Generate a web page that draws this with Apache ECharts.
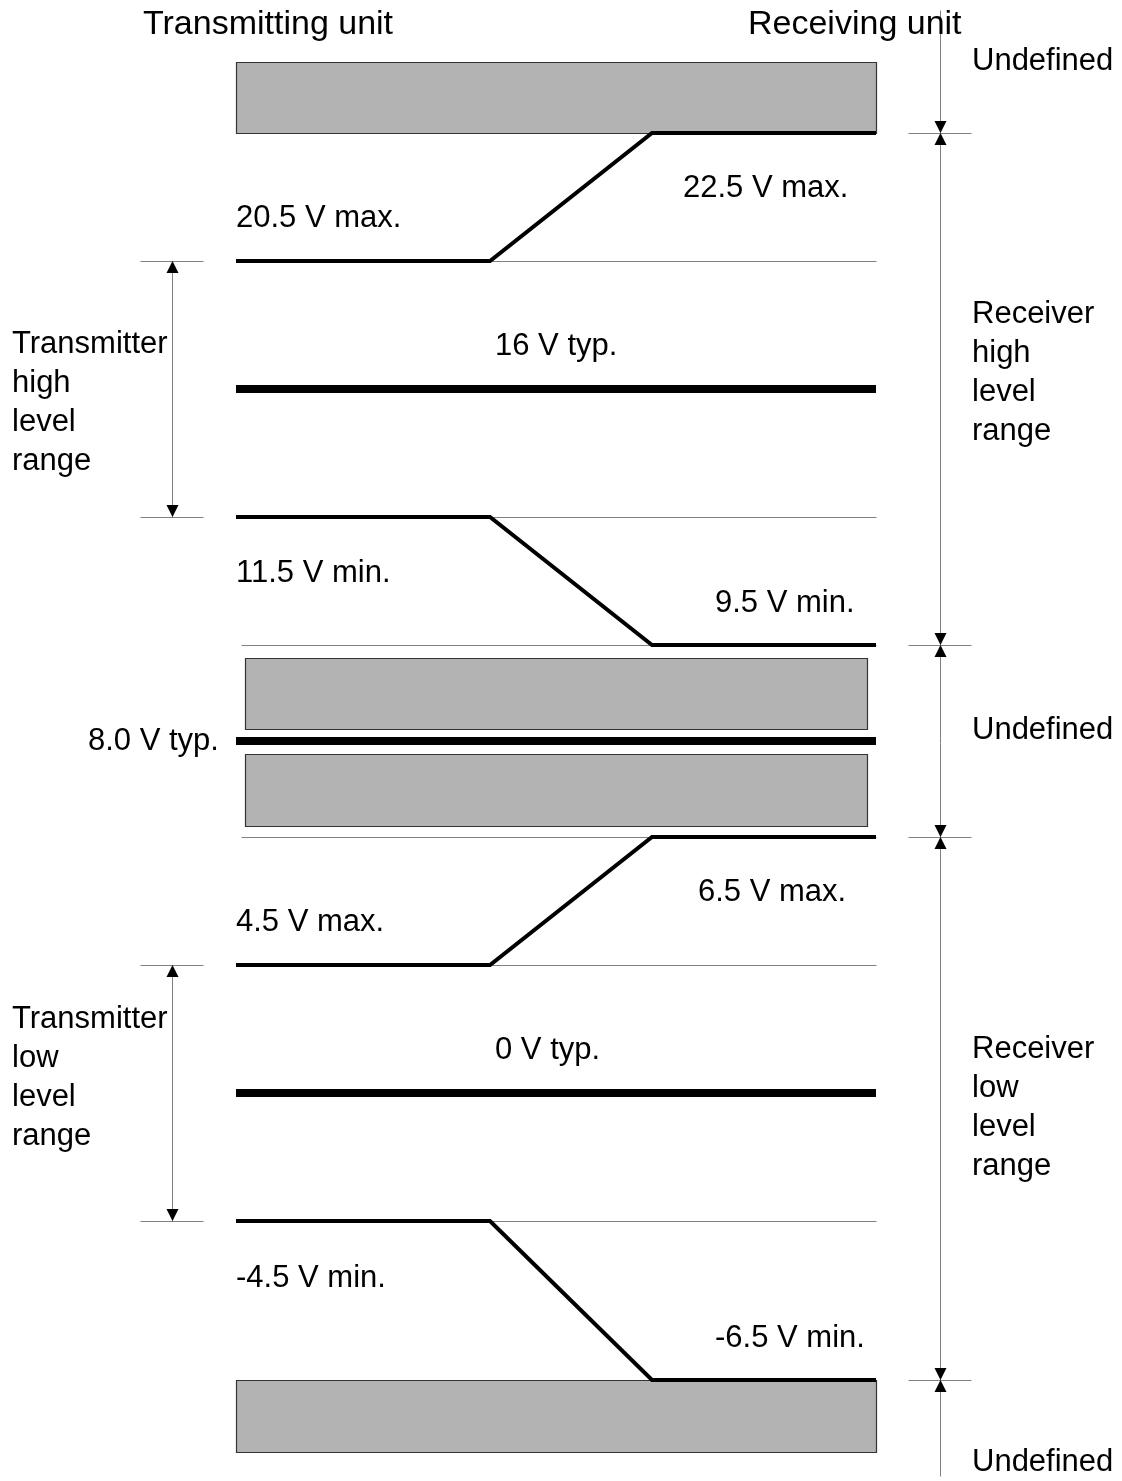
<!DOCTYPE html>
<html>
<head>
<meta charset="utf-8">
<script src="https://cdn.jsdelivr.net/npm/echarts@6/dist/echarts.min.js"></script>
<style>
html, body { margin: 0; background: #fff; }
#chart { width: 1122px; height: 1481px; }
</style>
</head>
<body>
<div id="chart"></div>
<script>
// diagram units: x runs across the page, y runs down the page
const colLeft = 236, rampStart = 490, rampEnd = 652, colRight = 876

// transmitter level -> receiver level (row where each one sits)
const traceTx = [261, 517, 965, 1221]
const traceRx = [133, 645, 837, 1380]
// typical levels
const typRows = [389, 741, 1093]
// undefined bands [x0, y0, x1, y1]
const bands = [
  [236, 62, 876, 133],
  [245, 658, 867, 729],
  [245, 754, 867, 826],
  [236, 1380, 876, 1452]
]
// thin reference lines [x0, y, x1]
const refLines = [
  [490, 261, 876], [490, 517, 876], [241, 645, 876], [241, 837, 876],
  [490, 965, 876], [490, 1221, 876],
  [140, 261, 203], [140, 517, 203], [140, 965, 203], [140, 1221, 203]
]
// receiver range boundaries on the right dimension line
const rxTicks = [133, 645, 837, 1380]
const rxAxisX = 940
// transmitter ranges on the left dimension line
const txRanges = [[261, 517], [965, 1221]]
const txAxisX = 172

// texts: [text, x, y, size]
const labels = [
  ['Transmitting unit', 143, 25, 34],
  ['Receiving unit', 748, 25, 34],
  ['Undefined', 972, 61, 31],
  ['22.5 V max.', 683, 188, 31],
  ['20.5 V max.', 236, 218, 31],
  ['16 V typ.', 495, 346, 31],
  ['11.5 V min.', 236, 573, 31],
  ['9.5 V min.', 715, 603, 31],
  ['8.0 V typ.', 88, 741, 31],
  ['Undefined', 972, 730, 31],
  ['6.5 V max.', 698, 892, 31],
  ['4.5 V max.', 236, 922, 31],
  ['0 V typ.', 495, 1050, 31],
  ['-4.5 V min.', 236, 1278, 31],
  ['-6.5 V min.', 715, 1338, 31],
  ['Undefined', 972, 1462, 31],
  ['Transmitter\nhigh\nlevel\nrange', 12, 403, 31],
  ['Receiver\nhigh\nlevel\nrange', 972, 373, 31],
  ['Transmitter\nlow\nlevel\nrange', 12, 1078, 31],
  ['Receiver\nlow\nlevel\nrange', 972, 1108, 31]
]

const FONT = '"Liberation Sans", Arial, sans-serif'

// arrowheads [x, y, dir] : dir 1 = points down, -1 = points up
const heads = []
rxTicks.forEach(y => { heads.push([rxAxisX, y, 1]); heads.push([rxAxisX, y, -1]) })
txRanges.forEach(r => { heads.push([txAxisX, r[0], -1]); heads.push([txAxisX, r[1], 1]) })

const segs = refLines.map(r => [r[0], r[1], r[2], r[1]])
rxTicks.forEach(y => segs.push([908, y, 971, y]))
segs.push([rxAxisX, 10, rxAxisX, 1476])
txRanges.forEach(r => segs.push([txAxisX, r[0], txAxisX, r[1]]))

const chart = echarts.init(document.getElementById('chart'))

const traceSeries = traceTx.map((tx, i) => ({
  type: 'line',
  symbol: 'none',
  z: 4,
  lineStyle: { color: '#000', width: 4, cap: 'butt', join: 'miter' },
  data: [[colLeft, tx], [rampStart, tx], [rampEnd, traceRx[i]], [colRight, traceRx[i]]]
}))

const typSeries = typRows.map(y => ({
  type: 'line',
  symbol: 'none',
  z: 4,
  lineStyle: { color: '#000', width: 8, cap: 'butt' },
  data: [[colLeft, y], [colRight, y]]
}))

chart.setOption({
  animation: false,
  grid: { left: 0, right: 0, top: 0, bottom: 0 },
  xAxis: { type: 'value', min: 0, max: 1122, show: false },
  yAxis: { type: 'value', min: 0, max: 1481, inverse: true, show: false },
  series: [{
    type: 'custom',
    z: 1,
    data: segs,
    renderItem: (params, api) => {
      const a = api.coord([api.value(0), api.value(1)])
      const b = api.coord([api.value(2), api.value(3)])
      // half pixel shift keeps the 1px lines crisp
      return {
        type: 'line',
        shape: { x1: a[0] + 0.5, y1: a[1] + 0.5, x2: b[0] + 0.5, y2: b[1] + 0.5 },
        style: { stroke: '#808080', lineWidth: 1 }
      }
    }
  }, {
    type: 'custom',
    z: 2,
    data: bands,
    renderItem: (params, api) => {
      const a = api.coord([api.value(0), api.value(1)])
      const b = api.coord([api.value(2), api.value(3)])
      return {
        type: 'rect',
        shape: { x: a[0] + 0.5, y: a[1] + 0.5, width: b[0] - a[0], height: b[1] - a[1] },
        style: { fill: '#b3b3b3', stroke: '#333', lineWidth: 1.2 }
      }
    }
  },
  ...traceSeries,
  ...typSeries,
  {
    type: 'custom',
    z: 5,
    data: heads,
    renderItem: (params, api) => {
      const p = api.coord([api.value(0), api.value(1)])
      const d = api.value(2)
      const x = p[0] + 0.5
      return {
        type: 'polygon',
        shape: { points: [[x, p[1]], [x - 6, p[1] - 12 * d], [x + 6, p[1] - 12 * d]] },
        style: { fill: '#000' }
      }
    }
  }, {
    type: 'custom',
    z: 6,
    data: labels.map((l, i) => [l[1], l[2], i]),
    renderItem: (params, api) => {
      const p = api.coord([api.value(0), api.value(1)])
      const l = labels[api.value(2)]
      return {
        type: 'text',
        style: {
          text: l[0],
          x: p[0],
          y: p[1],
          fill: '#000',
          font: l[3] + 'px ' + FONT,
          lineHeight: 39,
          align: 'left',
          verticalAlign: 'middle'
        }
      }
    }
  }]
})
</script>
</body>
</html>
